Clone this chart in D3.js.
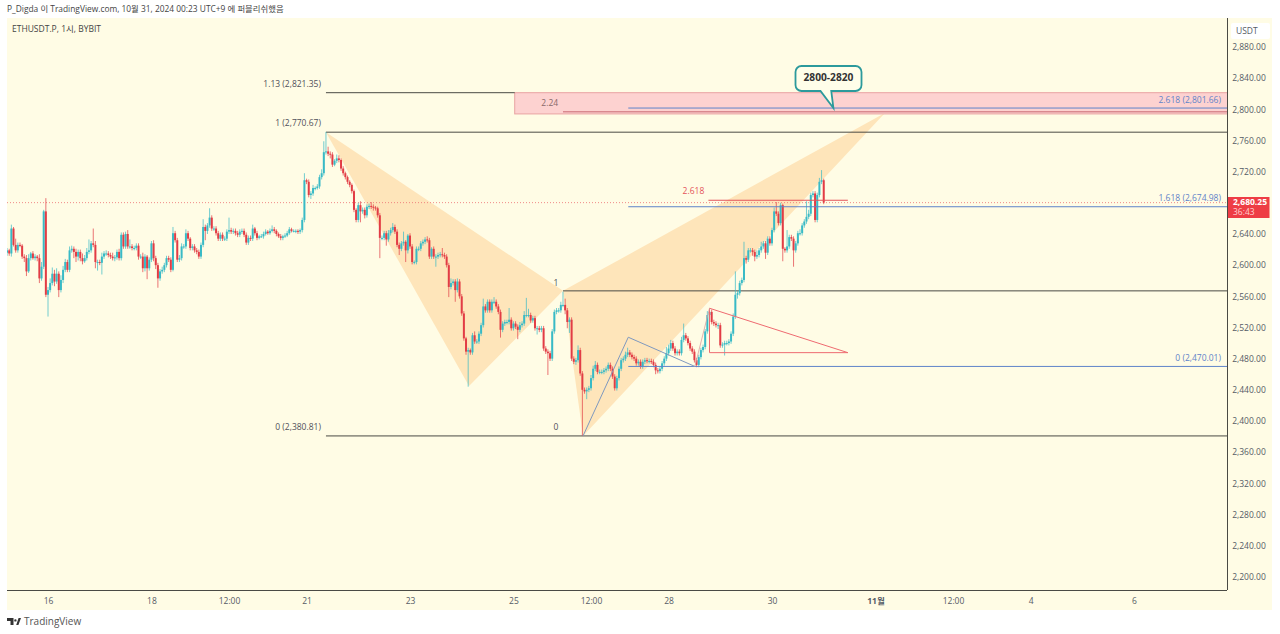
<!DOCTYPE html>
<html><head><meta charset="utf-8">
<script src="https://cdn.jsdelivr.net/npm/d3@7"></script>
<style>
html,body{margin:0;padding:0;background:#fff}
svg{display:block}
text{font-family:"Open Sans","Noto Sans CJK KR",sans-serif}
</style></head><body><div id="c"></div>
<script>
// hourly closes, one array per calendar day (ETHUSDT.P 1h)
const closeOct15=[2619,2615,2647,2626,2619,2626,2625,2611,2609,2592,2609,2615,2609,2611,2609,2583,2598,2669,2562];
const closeOct16=[2568,2577,2589,2579,2589,2568,2581,2594,2604,2594,2619,2621,2617,2611,2617,2609,2605,2609,2617,2619,2628,2626,2604,2604];
const closeOct17=[2603,2611,2615,2615,2613,2611,2609,2610,2617,2609,2639,2624,2640,2624,2624,2622,2622,2625,2611,2611,2596,2611,2596,2607];
const closeOct18=[2628,2609,2600,2583,2592,2594,2600,2609,2607,2594,2641,2632,2607,2609,2624,2624,2641,2634,2622,2624,2619,2617,2611,2626];
const closeOct19=[2649,2644,2651,2661,2647,2647,2641,2634,2639,2634,2634,2643,2645,2643,2644,2641,2639,2643,2644,2639,2629,2635,2634,2647];
const closeOct20=[2641,2635,2637,2637,2640,2643,2641,2644,2646,2644,2640,2637,2635,2637,2638,2641,2646,2644,2644,2644,2643,2645,2658,2709];
const closeOct21=[2707,2690,2692,2699,2699,2701,2713,2718,2745,2746,2743,2742,2729,2734,2737,2735,2724,2718,2713,2707,2703,2695,2671,2658];
const closeOct22=[2677,2669,2671,2664,2675,2676,2675,2674,2673,2664,2635,2635,2641,2633,2641,2645,2649,2643,2626,2621,2628,2630,2619,2638];
const closeOct23=[2624,2604,2604,2621,2621,2628,2630,2633,2632,2611,2621,2611,2611,2613,2614,2613,2611,2600,2572,2577,2579,2568,2579,2560];
const closeOct24=[2538,2506,2489,2491,2488,2510,2502,2502,2512,2523,2547,2542,2553,2542,2553,2553,2547,2540,2517,2525,2527,2527,2530,2519];
const closeOct25=[2525,2521,2517,2523,2525,2536,2536,2536,2529,2532,2519,2519,2517,2519,2493,2489,2487,2480,2515,2540,2542,2542,2549,2549];
const closeOct26=[2542,2527,2530,2480,2476,2478,2491,2461,2440,2438,2440,2442,2455,2467,2472,2463,2463,2463,2465,2467,2472,2467,2457,2442];
const closeOct27=[2455,2467,2478,2480,2485,2488,2485,2482,2480,2474,2476,2470,2476,2478,2477,2477,2476,2472,2465,2464,2467,2474,2480,2487];
const closeOct28=[2493,2500,2493,2487,2489,2487,2504,2510,2506,2500,2493,2489,2478,2472,2482,2491,2495,2515,2536,2540,2527,2525,2523,2523];
const closeOct29=[2497,2498,2500,2500,2502,2512,2534,2562,2564,2577,2581,2609,2607,2619,2619,2617,2611,2613,2619,2624,2628,2616,2634,2628];
const closeOct30=[2645,2669,2666,2654,2677,2621,2619,2624,2636,2634,2619,2628,2641,2641,2651,2656,2662,2666,2690,2692,2658,2690,2707,2709];
const closeOct31=[2680.25];
// upper / lower wick lengths in USDT
const upOct15=[3,2,5,2,8,3,3,2,3,4,5,2,3,3,2,5,6,2,17];
const upOct16=[4,6,8,5,7,3,6,5,4,3,5,4,3,4,3,3,6,4,5,14,3,19,5,3];
const upOct17=[3,5,3,4,3,3,5,3,3,4,3,3,3,5,9,3,3,3,3,3,5,3,2,3];
const upOct18=[3,4,3,3,3,4,3,3,3,3,8,3,3,4,4,3,5,3,2,3,3,3,3,3];
const upOct19=[10,3,3,12,3,3,3,3,3,3,3,3,16,3,3,3,3,3,3,3,3,3,3,5];
const upOct20=[2,3,2,3,3,3,2,3,5,3,2,2,3,2,3,3,3,2,2,2,2,2,3,9];
const upOct21=[2,3,3,4,2,3,3,5,14,25,6,3,3,2,5,4,2,3,2,2,2,2,2,2];
const upOct22=[3,5,3,3,3,3,5,3,2,2,3,3,3,3,4,3,5,3,3,3,3,13,2,2];
const upOct23=[3,3,2,3,3,3,3,3,4,3,2,3,3,3,3,8,3,3,3,6,3,3,4,3];
const upOct24=[3,3,2,3,2,3,5,3,3,3,10,3,3,3,3,6,3,3,3,3,3,3,15,3];
const upOct25=[3,3,3,4,3,5,22,8,3,3,3,3,3,3,3,3,3,3,3,3,3,3,4,17];
const upOct26=[8,3,3,3,3,3,6,3,3,3,3,3,4,4,5,3,3,3,3,3,3,3,3,3];
const upOct27=[3,3,3,3,4,6,3,3,3,3,3,3,3,3,3,3,3,3,3,3,3,3,3,8];
const upOct28=[5,4,3,3,3,3,4,15,3,3,3,3,3,3,3,3,3,3,5,3,3,3,3,3];
const upOct29=[3,3,3,3,3,3,4,30,3,3,3,21,3,3,3,3,3,6,3,6,3,3,3,3];
const upOct30=[3,5,12,3,3,2,2,21,3,3,3,3,3,5,3,3,20,5,3,3,3,3,5,13];
const upOct31=[2];
const downOct15=[4,3,4,2,3,3,2,3,5,6,2,3,2,3,4,6,3,3,3];
const downOct16=[28,3,3,6,3,9,3,4,3,3,3,3,8,7,5,4,4,2,3,3,3,3,8,11];
const downOct17=[3,15,3,3,3,3,3,4,3,3,3,3,3,3,3,3,3,3,4,3,5,4,14,3];
const downOct18=[3,4,5,12,3,3,3,3,3,3,2,3,3,3,3,3,3,3,3,3,3,3,3,3];
const downOct19=[3,12,4,3,3,3,3,3,3,3,3,3,3,3,3,3,3,3,3,3,3,3,3,3];
const downOct20=[3,3,2,2,3,2,2,2,2,3,3,2,3,3,2,2,2,2,2,3,3,3,3,3];
const downOct21=[3,3,5,3,3,2,3,3,3,3,3,5,3,2,3,3,3,3,3,3,3,3,3,3];
const downOct22=[3,14,3,4,3,3,3,4,3,3,26,3,3,8,3,3,3,3,3,8,3,3,15,4];
const downOct23=[3,3,3,3,3,3,3,3,3,3,3,3,13,3,3,3,3,3,13,3,3,15,3,3];
const downOct24=[3,3,4,45,3,3,3,3,3,3,3,3,3,3,3,3,3,3,10,3,3,3,3,3];
const downOct25=[3,3,12,3,3,3,3,3,3,3,3,8,3,3,3,3,28,3,3,3,3,3,3,3];
const downOct26=[5,8,14,3,3,4,3,3,59,3,10,3,3,3,3,3,3,3,3,3,3,3,3,3];
const downOct27=[3,3,3,3,3,3,3,3,3,3,3,3,3,3,3,3,3,3,5,3,3,3,3,3];
const downOct28=[3,3,3,3,3,3,3,3,3,3,3,3,3,3,3,3,3,3,3,3,3,3,3,5];
const downOct29=[3,3,14,3,3,3,3,3,5,3,3,3,5,3,3,5,6,3,3,3,3,8,3,3];
const downOct30=[3,3,3,3,3,16,3,3,3,3,21,3,3,3,3,3,3,3,3,3,3,3,3,3];
const downOct31=[2];

const priceTicks=[2880,2840,2800,2760,2720,2640,2600,2560,2520,2480,2440,2400,2360,2320,2280,2240,2200];
const timeTickHours=[0,48,84,120,168,216,252,288,336,384,420,456,504];
const timeTickLabels=["16","18","12:00","21","23","25","12:00","28","30","11월","12:00","4","6"];

// drawing tools, [hour since Oct 16 00:00, price]
const legXA=[[129,2770.67],[195.4,2445],[239,2567]];
const legBCD=[[239,2567],[248.3,2380.81],[388.4,2795.4]];
const blueABC=[[248.3,2380.81],[269.3,2507.5],[300.2,2470.01]];
const redTriangle=[[307,2544.7],[371.2,2487.7],[307,2487.7]];
const fibBlack=[[2821.35,129,216.6],[2770.67,129,null],[2567,239,null],[2380.81,129,null]];
const fibBlue=[[2801.66,269.3],[2674.98,269.3],[2470.01,269.3]];
const fibBlueLabels=["2.618 (2,801.66)","1.618 (2,674.98)","0 (2,470.01)"];
const fibLeftLabels=[[2821.35,"1.13 (2,821.35)"],[2770.67,"1 (2,770.67)"],[2380.81,"0 (2,380.81)"]];
const zone=[216.6,2821.35,2794.1];
const zoneLine=[2797,239];
const lastPrice=2680.25;

const closes=[closeOct15,closeOct16,closeOct17,closeOct18,closeOct19,closeOct20,closeOct21,closeOct22,closeOct23,closeOct24,closeOct25,closeOct26,closeOct27,closeOct28,closeOct29,closeOct30,closeOct31];
const ups=[upOct15,upOct16,upOct17,upOct18,upOct19,upOct20,upOct21,upOct22,upOct23,upOct24,upOct25,upOct26,upOct27,upOct28,upOct29,upOct30,upOct31];
const downs=[downOct15,downOct16,downOct17,downOct18,downOct19,downOct20,downOct21,downOct22,downOct23,downOct24,downOct25,downOct26,downOct27,downOct28,downOct29,downOct30,downOct31];
closes.forEach((r,i)=>{if(r.length!==ups[i].length||r.length!==downs[i].length||(i>0&&i<16&&r.length!==24))throw new Error("row "+i+" "+r.length+" "+ups[i].length+" "+downs[i].length)});
const C=closes.flat(),U=ups.flat(),D=downs.flat();
const firstHour=-closeOct15.length;
const candles=C.map((c,i)=>{const o=i?C[i-1]:2616;return{t:firstHour+i,o,c,h:Math.max(o,c)+U[i],l:Math.min(o,c)-D[i]}});

const W=1280,H=634;
const L=7,R=1227,T=18,B=590,RA=1272,BA=610;
const x=d3.scaleLinear().domain([0,504]).range([48,1134]);
const y=d3.scaleLinear().domain([2880,2200]).range([47,576.8]);
const svg=d3.select("#c").append("svg").attr("width",W).attr("height",H);
const bg="#fffce5",txt="#555b66",dark="#4a4a44";
svg.append("rect").attr("x",L).attr("y",T).attr("width",RA-L).attr("height",BA-T).attr("fill",bg);
svg.append("defs").append("clipPath").attr("id","p").append("rect").attr("x",L).attr("y",T).attr("width",R-L).attr("height",B-T);
const g=svg.append("g").attr("clip-path","url(#p)");
const line=d3.line().x(d=>x(d[0])).y(d=>y(d[1]));

// harmonic pattern
g.selectAll("path.h").data([legXA,legBCD]).join("path").attr("class","h")
 .attr("d",d=>line(d)+"Z").attr("fill","#fee5ba");

// fib zone
g.append("rect").attr("x",x(zone[0])).attr("y",y(zone[1])).attr("width",R-x(zone[0])+2).attr("height",y(zone[2])-y(zone[1]))
 .attr("fill","#fdd2d0").attr("stroke","#e9a3a3").attr("stroke-width",1);
g.append("line").attr("x1",x(zoneLine[1])).attr("x2",R).attr("y1",y(zoneLine[0])).attr("y2",y(zoneLine[0])).attr("stroke","#d98a8f").attr("stroke-width",1.5);

// fib lines
g.selectAll("line.fb").data(fibBlack).join("line").attr("class","fb")
 .attr("x1",d=>x(d[1])).attr("x2",d=>d[2]===null?R:x(d[2])).attr("y1",d=>y(d[0])).attr("y2",d=>y(d[0]))
 .attr("stroke",dark).attr("stroke-width",1);

// last price
g.append("line").attr("x1",L).attr("x2",R).attr("y1",y(lastPrice)).attr("y2",y(lastPrice))
 .attr("stroke","#ee6f73").attr("stroke-width",1).attr("stroke-dasharray","1 2").attr("opacity",.8);

// candles
const up="#38bac6",dn="#e23c45";
g.selectAll("line.w").data(candles).join("line").attr("class","w")
 .attr("x1",d=>x(d.t)).attr("x2",d=>x(d.t)).attr("y1",d=>y(d.h)).attr("y2",d=>y(d.l))
 .attr("stroke",d=>d.c>=d.o?up:dn).attr("stroke-width",1).attr("opacity",.7);
const bw=(x(1)-x(0))*.92;
g.selectAll("rect.b").data(candles).join("rect").attr("class","b")
 .attr("x",d=>x(d.t)-bw/2).attr("width",bw)
 .attr("y",d=>Math.min(y(d.o),y(d.c))).attr("height",d=>Math.max(1,Math.abs(y(d.o)-y(d.c))))
 .attr("fill",d=>d.c>=d.o?up:dn);

// overlays above candles
g.selectAll("line.fu").data(fibBlue).join("line").attr("class","fu")
 .attr("x1",d=>x(d[1])).attr("x2",R).attr("y1",d=>y(d[0])).attr("y2",d=>y(d[0]))
 .attr("stroke","#5f83c9").attr("stroke-width",1);
g.append("path").attr("d",line(blueABC)).attr("fill","none").attr("stroke","#7f99bf").attr("stroke-width",1);
g.append("path").attr("d",line(redTriangle)+"Z").attr("fill","none").attr("stroke","#ee6a70").attr("stroke-width",1);
g.append("path").attr("d",line([blueABC[2],redTriangle[0]])).attr("fill","none").attr("stroke","#d8a0a0").attr("stroke-width",.8);
g.append("line").attr("x1",x(306.5)).attr("x2",x(371.2)).attr("y1",y(2683.3)).attr("y2",y(2683.3)).attr("stroke","#e4535a").attr("stroke-width",1);

// labels
const lab=(X,Y,t,a,c,s,w)=>svg.append("text").attr("x",X).attr("y",Y).attr("text-anchor",a||"start").attr("fill",c||txt).attr("font-size",s||8.5).attr("font-weight",w||400).attr("dominant-baseline","middle").text(t);
fibLeftLabels.forEach(d=>lab(x(129)-5,y(d[0])-8,d[1],"end","#50505a"));
fibBlue.forEach((d,i)=>lab(R-6,y(d[0])-7.7,fibBlueLabels[i],"end","#5f83c9"));
lab(x(239)-7,y(2567)-7.5,"1","middle","#50505a");
lab(x(239)-7,y(2380.81)-8.5,"0","middle","#50505a");
lab(x(216.6)+35,y(2807),"2.24","middle","#8a6a6a");
lab(x(306.5)-15,y(2683.3)-9,"2.618","middle","#e4535a");

// callout
const box=[795.5,66,861.5,91];
svg.append("path").attr("d",`M${box[0]+6},${box[1]}H${box[2]-6}a6,6 0 0 1 6,6V${box[3]-6}a6,6 0 0 1 -6,6H${x(363.5)}L${x(364.5)},${y(2801.66)}L${x(358.5)},${box[3]}H${box[0]+6}a6,6 0 0 1 -6,-6V${box[1]+6}a6,6 0 0 1 6,-6Z`)
 .attr("fill","#fffee9").attr("stroke","#2c9a9c").attr("stroke-width",1.8);
lab((box[0]+box[2])/2,78.5,"2800-2820","middle","#333",10.2,700);

// axes
const yAxis=d3.axisRight(y).tickValues(priceTicks).tickSize(0).tickPadding(0).tickFormat(d3.format(",.2f"));
const ya=svg.append("g").attr("transform",`translate(${R+22},0)`).call(yAxis);
ya.select(".domain").remove();
ya.selectAll("text").attr("text-anchor","middle").attr("fill",txt).attr("font-size",8.5).attr("x",0).attr("font-family",'"Open Sans",sans-serif');
const xAxis=d3.axisBottom(x).tickValues(timeTickHours).tickSize(0).tickPadding(0).tickFormat((d,i)=>timeTickLabels[i]);
const xa=svg.append("g").attr("transform",`translate(0,${B+8})`).call(xAxis);
xa.select(".domain").remove();
xa.selectAll("text").attr("fill",txt).attr("font-size",8.5).attr("font-family",'"Open Sans","Noto Sans CJK KR",sans-serif').attr("font-weight",(d,i)=>timeTickLabels[i]==="11월"?700:400);

svg.append("line").attr("x1",R+.5).attr("x2",R+.5).attr("y1",T).attr("y2",B).attr("stroke",dark);
svg.append("line").attr("x1",L).attr("x2",R).attr("y1",B+.5).attr("y2",B+.5).attr("stroke",dark);

// USDT + last price badge
svg.append("rect").attr("x",1231).attr("y",23).attr("width",39).attr("height",16).attr("rx",2).attr("fill","#fff");
lab(1236,32,"USDT","start",txt,8.5);
svg.append("rect").attr("x",1228).attr("y",197).attr("width",41.5).attr("height",21).attr("fill","#ee3d45");
lab(1233,203,d3.format(",.2f")(lastPrice),"start","#fff",8.5,700);
lab(1233,212.5,"36:43","start","#ffd0d0",8.5);

// header / footer
lab(7,9.5,"P_Digda 이 TradingView.com, 10월 31, 2024 00:23 UTC+9 에 퍼블리쉬했음","start","#444",8.4);
lab(12,30,"ETHUSDT.P, 1시, BYBIT","start","#444",8.5);
svg.append("path").attr("d","M7 618h6.5v7h-3v-4H7zM14.2 620.4a1.2 1.2 0 1 0 2.4 0a1.2 1.2 0 1 0 -2.4 0M16.2 625l2.4-7h2.4l-2.6 7z").attr("fill","#333");
lab(24,622,"TradingView","start","#555",10);
</script></body></html>
